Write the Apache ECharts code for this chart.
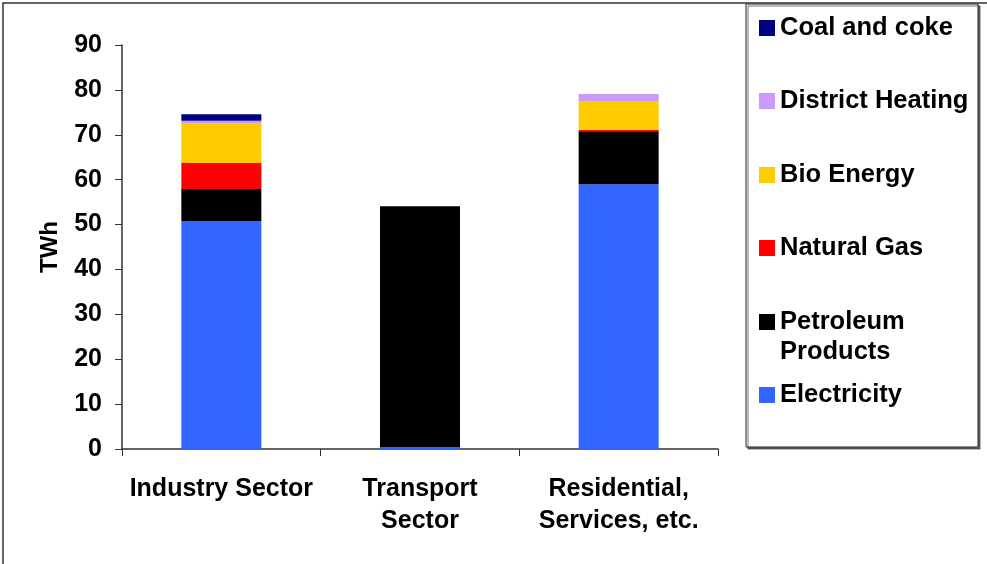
<!DOCTYPE html>
<html>
<head>
<meta charset="utf-8">
<title>Final energy consumption by sector</title>
<script src="https://cdn.jsdelivr.net/npm/echarts@6/dist/echarts.min.js"></script>
<style>
  html, body { margin: 0; padding: 0; background: #fff; }
  #chart { width: 987px; height: 564px; }
</style>
</head>
<body>
<div id="chart"></div>
<script>
// Sectors on the x axis
const sectors = ['Industry Sector', 'Transport\nSector', 'Residential,\nServices, etc.'];

// Energy carriers in TWh, stacked bottom to top
const electricity = [50.8, 0.4, 59.0];
const petroleumProducts = [7.1, 53.7, 11.8];
const naturalGas = [5.8, 0, 0.3];
const bioEnergy = [8.9, 0, 6.4];
const districtHeating = [0.5, 0, 1.6];
const coalAndCoke = [1.5, 0, 0];

const seriesNames = ['Electricity', 'Petroleum Products', 'Natural Gas', 'Bio Energy', 'District Heating', 'Coal and coke'];
const seriesValues = [electricity, petroleumProducts, naturalGas, bioEnergy, districtHeating, coalAndCoke];
const seriesColors = ['#3366FF', '#000000', '#FF0000', '#FFCC00', '#CC99FF', '#000080'];

// Legend order (top to bottom) and the vertical centre of each swatch
const legendOrder = ['Coal and coke', 'District Heating', 'Bio Energy', 'Natural Gas', 'Petroleum Products', 'Electricity'];
const legendCentres = [28, 101, 175, 248, 322, 395];

const FONT = '"Liberation Sans", Arial, Helvetica, sans-serif';

const chart = echarts.init(document.getElementById('chart'), null, { renderer: 'canvas' });

// One single-item legend per entry so every swatch sits at its own height.
// The two-line entry gets an empty first line, which keeps "Petroleum"
// level with its swatch and "Products" on the line below.
const legends = legendOrder.map(function (name, i) {
  const twoLine = name === 'Petroleum Products';
  return {
    orient: 'vertical',
    left: 759,
    top: twoLine ? legendCentres[i] - 45 : legendCentres[i] - 15,
    padding: 0,
    itemWidth: 16,
    itemHeight: 16,
    icon: 'rect',
    selectedMode: false,
    data: [name],
    formatter: function (n) { return n === 'Petroleum Products' ? ' \nPetroleum\nProducts' : n; },
    textStyle: {
      fontFamily: FONT,
      fontWeight: 'bold',
      fontSize: 25.5,
      lineHeight: 30,
      color: '#000'
    }
  };
});

chart.setOption({
  animation: false,
  backgroundColor: '#fff',
  textStyle: { fontFamily: FONT },
  grid: { left: 122, right: 269, top: 45, bottom: 115, containLabel: false },
  legend: legends,
  graphic: [
    {
      type: 'rect',
      shape: { x: 3, y: 3, width: 1000, height: 600 },
      style: { fill: null, stroke: '#333', lineWidth: 1.5 },
      silent: true
    },
    {
      type: 'rect',
      shape: { x: 746, y: 4, width: 232, height: 443 },
      style: {
        fill: '#fff', stroke: '#222', lineWidth: 1,
        shadowColor: 'rgba(0,0,0,0.55)', shadowOffsetX: 2, shadowOffsetY: 2, shadowBlur: 0
      },
      z: -1,
      silent: true
    }
  ],
  xAxis: {
    type: 'category',
    data: sectors,
    axisLine: { lineStyle: { color: '#333', width: 1.5 } },
    axisTick: { show: true, length: 7, lineStyle: { color: '#333', width: 1 } },
    axisLabel: {
      interval: 0,
      margin: 24,
      fontFamily: FONT,
      fontWeight: 'bold',
      fontSize: 25,
      lineHeight: 32,
      color: '#000'
    },
    splitLine: { show: false }
  },
  yAxis: {
    type: 'value',
    min: 0,
    max: 90,
    interval: 10,
    name: 'TWh',
    nameLocation: 'middle',
    nameRotate: 90,
    nameGap: 60,
    nameTextStyle: { fontFamily: FONT, fontWeight: 'bold', fontSize: 24, color: '#000' },
    axisLine: { show: true, lineStyle: { color: '#333', width: 1.5 } },
    axisTick: { show: true, length: 7, lineStyle: { color: '#333', width: 1 } },
    axisLabel: {
      margin: 20,
      fontFamily: FONT,
      fontWeight: 'bold',
      fontSize: 25,
      color: '#000'
    },
    splitLine: { show: false }
  },
  series: seriesNames.map(function (name, i) {
    return {
      name: name,
      type: 'bar',
      stack: 'total',
      barWidth: 80,
      data: seriesValues[i],
      itemStyle: { color: seriesColors[i] },
      emphasis: { disabled: true }
    };
  })
});
</script>
</body>
</html>
